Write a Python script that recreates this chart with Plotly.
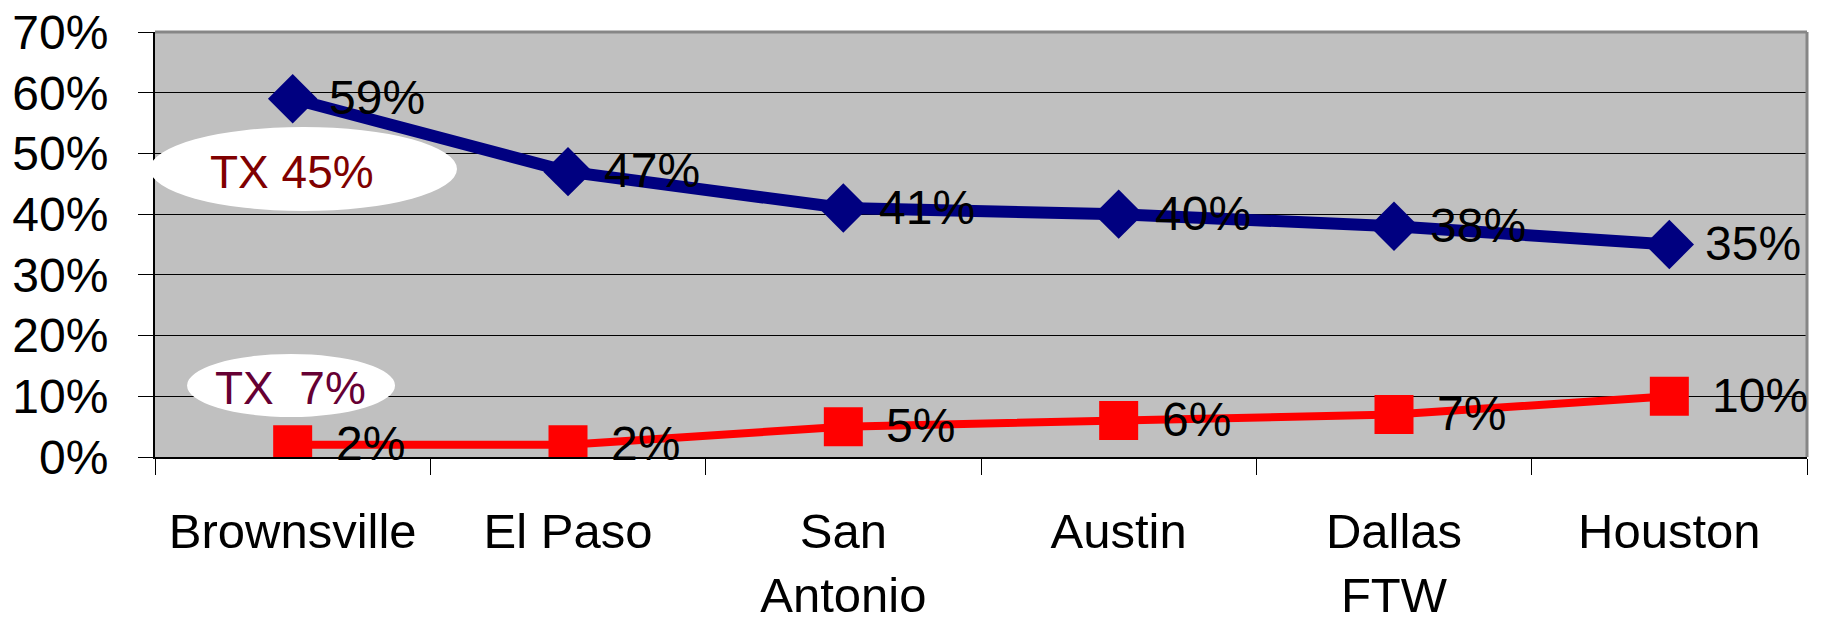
import plotly.graph_objects as go

# Data
cities = ["Brownsville", "El Paso", "San Antonio", "Austin", "Dallas FTW", "Houston"]
city_tick_labels = ["Brownsville", "El Paso", "San<br>Antonio", "Austin", "Dallas<br>FTW", "Houston"]
series_a = [0.59, 0.47, 0.41, 0.40, 0.38, 0.35]
series_b = [0.02, 0.02, 0.05, 0.06, 0.07, 0.10]
texas_levels = [0.45, 0.07]
y_ticks = [0.0, 0.1, 0.2, 0.3, 0.4, 0.5, 0.6, 0.7]

FONT = "Liberation Sans, Arial, sans-serif"
NAVY = "#000080"
RED = "#FF0000"

fig = go.Figure()

fig.add_trace(go.Scatter(
    x=cities, y=series_a, mode="lines+markers", name="series_a",
    line=dict(color=NAVY, width=12),
    marker=dict(symbol="diamond", size=38, color=NAVY, line=dict(width=0)),
    hoverinfo="skip", showlegend=False,
))
fig.add_trace(go.Scatter(
    x=cities, y=series_b, mode="lines+markers", name="series_b",
    line=dict(color=RED, width=8),
    marker=dict(symbol="square", size=39, color=RED, line=dict(width=0)),
    hoverinfo="skip", showlegend=False,
))

annotations = []
# value labels to the right of each point
for vals, shift in ((series_a, 34), (series_b, 41)):
    for c, v in zip(cities, vals):
        annotations.append(dict(
            x=c, y=v, xref="x", yref="y", text=f"{v:.0%}",
            showarrow=False, xanchor="left", yanchor="middle",
            xshift=shift, yshift=1,
            font=dict(family=FONT, size=48, color="black"),
        ))

# Texas reference callouts
annotations.append(dict(
    x=0.0829, y=0.6706, xref="paper", yref="paper",
    text=f"TX {texas_levels[0]:.0%}", showarrow=False,
    xanchor="center", yanchor="middle",
    font=dict(family=FONT, size=46, color="#800000"),
))
annotations.append(dict(
    x=0.0823, y=0.1624, xref="paper", yref="paper",
    text=f"TX\u00a0\u00a0{texas_levels[1]:.0%}", showarrow=False,
    xanchor="center", yanchor="middle",
    font=dict(family=FONT, size=46, color="#660033"),
))

shapes = [
    # white ellipses behind the TX labels
    dict(type="circle", xref="paper", yref="paper",
         x0=-0.003, x1=0.1828, y0=0.5788, y1=0.7765,
         fillcolor="white", line=dict(width=0), layer="above"),
    dict(type="circle", xref="paper", yref="paper",
         x0=0.0194, x1=0.1453, y0=0.0941, y1=0.2424,
         fillcolor="white", line=dict(width=0), layer="above"),
    # grey frame on top and right of the plot area
    dict(type="line", xref="paper", yref="paper", x0=0, x1=1, y0=1, y1=1,
         line=dict(color="#868686", width=3), layer="above"),
    dict(type="line", xref="paper", yref="paper", x0=1, x1=1, y0=0, y1=1,
         line=dict(color="#868686", width=3), layer="above"),
]

fig.update_layout(
    width=1830, height=620,
    margin=dict(l=155, r=23, t=32, b=163, autoexpand=False),
    paper_bgcolor="white",
    plot_bgcolor="#C0C0C0",
    font=dict(family=FONT, size=48, color="black"),
    showlegend=False,
    annotations=annotations,
    shapes=shapes,
)

fig.update_xaxes(
    type="category", categoryorder="array", categoryarray=cities,
    range=[-0.5, len(cities) - 0.5],
    tickvals=cities, ticktext=city_tick_labels,
    tickson="boundaries", ticks="outside", ticklen=16, tickwidth=1, tickcolor="black",
    showline=True, linecolor="black", linewidth=2,
    showgrid=False, zeroline=False, automargin=False,
    tickfont=dict(family=FONT, size=49, color="black"),
    ticklabelstandoff=30,
)
fig.update_yaxes(
    range=[0, 0.7], tickvals=y_ticks, tickformat=".0%",
    ticks="outside", ticklen=15, tickwidth=1, tickcolor="black",
    showline=True, linecolor="black", linewidth=2,
    showgrid=True, gridcolor="black", gridwidth=1, zeroline=False, automargin=False,
    tickfont=dict(family=FONT, size=48, color="black"),
    ticklabelstandoff=20,
)

fig.write_html("out.html")
